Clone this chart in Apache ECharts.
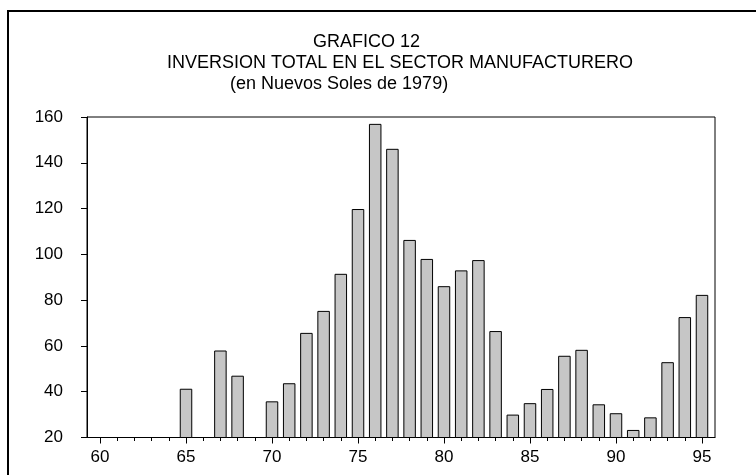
<!DOCTYPE html>
<html>
<head>
<meta charset="utf-8">
<script src="https://cdn.jsdelivr.net/npm/echarts@6/dist/echarts.min.js"></script>
<style>
  html, body { margin: 0; padding: 0; background: #fff; }
  #chart { width: 756px; height: 475px; }
</style>
</head>
<body>
<div id="chart"></div>
<script>
// años 1960-1995 (eje x)
var years = [60, 61, 62, 63, 64, 65, 66, 67, 68, 69, 70, 71, 72, 73, 74, 75, 76, 77,
  78, 79, 80, 81, 82, 83, 84, 85, 86, 87, 88, 89, 90, 91, 92, 93, 94, 95];
// inversion total (millones de nuevos soles de 1979)
var inversion = [null, null, null, null, null, 41.3, null, 58, 47, null, 35.8, 43.7,
  65.7, 75.3, 91.5, 119.8, 157, 146.1, 106.3, 98, 86.1, 93, 97.5, 66.5, 30, 35,
  41.2, 55.7, 58.3, 34.5, 30.6, 23.3, 28.8, 52.9, 72.6, 82.3];
var xLabels = [60, 65, 70, 75, 80, 85, 90, 95];
var yTicks = [20, 40, 60, 80, 100, 120, 140, 160];

var titleLines = ['GRAFICO 12', 'INVERSION TOTAL EN EL SECTOR MANUFACTURERO', '(en Nuevos Soles de 1979)'];

var font = 'Liberation Sans, Arial, sans-serif';
var chart = echarts.init(document.getElementById('chart'));

var barData = years.map(function (y, i) { return [y, inversion[i]]; });

var option = {
  animation: false,
  backgroundColor: '#fff',
  title: [
    { text: titleLines[0], left: 313, top: 33, padding: 0,
      textStyle: { fontFamily: font, fontSize: 18, fontWeight: 'normal', color: '#000' } },
    { text: titleLines[1], left: 167, top: 54, padding: 0,
      textStyle: { fontFamily: font, fontSize: 18, fontWeight: 'normal', color: '#000' } },
    { text: titleLines[2], left: 230, top: 75, padding: 0,
      textStyle: { fontFamily: font, fontSize: 18, fontWeight: 'normal', color: '#000' } }
  ],
  graphic: [{
    type: 'rect',
    shape: { x: 8, y: 11, width: 770, height: 500 },
    style: { fill: null, stroke: '#000', lineWidth: 2 }
  }],
  grid: {
    left: 87, top: 117, right: 41, bottom: 37.5,
    show: true, borderColor: '#000', borderWidth: 1, backgroundColor: '#fff'
  },
  xAxis: [{
    type: 'value',
    min: 59.244, max: 95.756,
    splitLine: { show: false },
    axisLine: { show: true, onZero: false, lineStyle: { color: '#000', width: 1 } },
    axisTick: { show: true, length: 3.5, customValues: years, lineStyle: { color: '#000' } },
    axisLabel: { customValues: xLabels, margin: 11, fontFamily: font, fontSize: 17, color: '#000' }
  }, {
    type: 'value',
    position: 'bottom',
    min: 59.244, max: 95.756,
    splitLine: { show: false },
    axisLine: { show: false },
    axisTick: { show: true, length: 6, customValues: xLabels, lineStyle: { color: '#000' } },
    axisLabel: { show: false }
  }],
  yAxis: {
    type: 'value',
    min: 20, max: 160, interval: 20,
    splitLine: { show: false },
    axisLine: { show: true, lineStyle: { color: '#000' } },
    axisTick: { show: true, length: 6, lineStyle: { color: '#000' } },
    axisLabel: { margin: 24, fontFamily: font, fontSize: 17, color: '#000' }
  },
  series: [{
    type: 'bar',
    data: barData,
    barWidth: 12.5,
    xAxisIndex: 0,
    itemStyle: { color: '#c6c6c6', borderColor: '#000', borderWidth: 1 }
  }]
};

chart.setOption(option);
</script>
</body>
</html>
